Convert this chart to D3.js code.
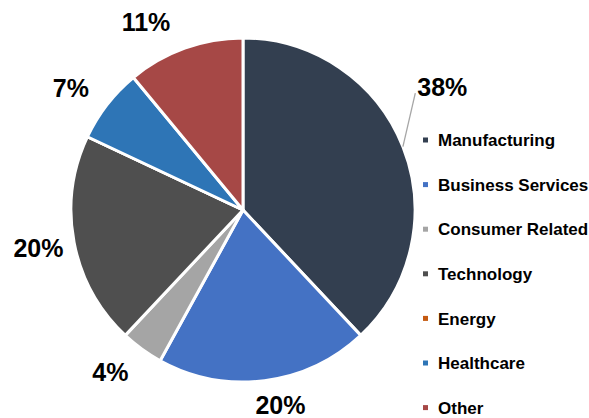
<!DOCTYPE html>
<html><head><meta charset="utf-8">
<script src="https://cdn.jsdelivr.net/npm/d3@7"></script>
<style>body{margin:0;background:#fff}svg{display:block}</style>
</head><body>
<svg id="c" width="589" height="418"></svg>
<script>
const categories = ["Manufacturing","Business Services","Consumer Related","Technology","Energy","Healthcare","Other"];
const values = [38, 20, 4, 20, 0, 7, 11];
const colors = ["#333F50","#4472C4","#A5A5A5","#4F4F4F","#C55A11","#2E75B6","#A64846"];

const svg = d3.select("#c");
const cx = 243, cy = 210, R = 172;
const g = svg.append("g").attr("transform", `translate(${cx},${cy})`);
const pie = d3.pie().sort(null).value(d => d)(values);
const arc = d3.arc().innerRadius(0).outerRadius(R);
g.selectAll("path").data(pie).enter().append("path")
  .attr("d", arc).attr("fill", (d,i) => colors[i])
  .attr("stroke", "#fff").attr("stroke-width", 3).attr("stroke-linejoin","round");

// labels
const lblArc = d3.arc().innerRadius(195).outerRadius(195);
const nudge = [[18,-51],[13,1.5],[-18,4],[-13,1],[0,0],[-18,-2],[-31,-5]];
pie.forEach((d,i) => {
  if (values[i] === 0) return;
  const [x,y] = lblArc.centroid(d);
  const lx = x + nudge[i][0], ly = y + nudge[i][1];
  g.append("text").attr("x", lx).attr("y", ly).attr("dy","0.36em")
   .attr("text-anchor","middle")
   .attr("font-family","Liberation Sans, Arial, sans-serif")
   .attr("font-weight","bold").attr("font-size", 25).attr("fill","#000")
   .text(values[i] + "%");
  if (i === 0) {
    const mid = (d.startAngle + d.endAngle)/2;
    g.append("line")
     .attr("x1", lx - 27).attr("y1", ly + 6)
     .attr("x2", R*Math.sin(mid)).attr("y2", -R*Math.cos(mid))
     .attr("stroke","#A6A6A6").attr("stroke-width",1.3);
  }
});

// legend
const leg = svg.append("g");
const ly0 = 140, lstep = 44.6;
categories.forEach((c,i) => {
  const y = ly0 + i*lstep;
  leg.append("rect").attr("x", 423).attr("y", y-2.5).attr("width",5).attr("height",5).attr("fill", colors[i]);
  leg.append("text").attr("x", 438).attr("y", y).attr("dy","0.36em")
    .attr("font-family","Liberation Sans, Arial, sans-serif")
    .attr("font-weight","bold").attr("font-size", 17).attr("fill","#000")
    .text(c);
});
</script>
</body></html>
